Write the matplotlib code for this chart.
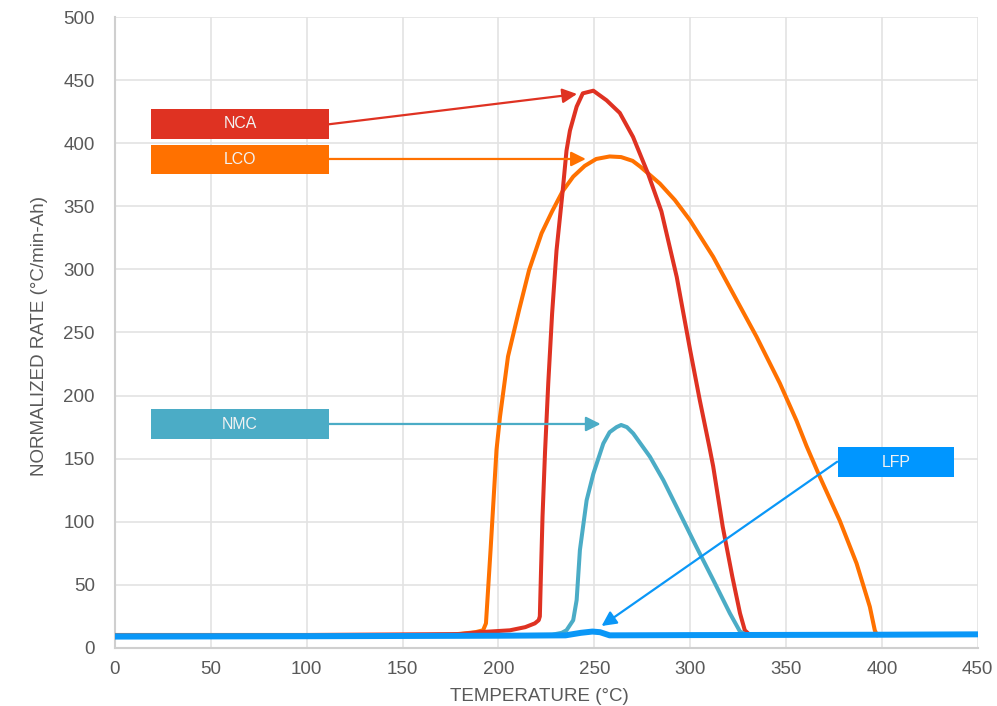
import matplotlib.pyplot as plt
from matplotlib.patches import Rectangle

plt.rcParams['font.family'] = ['Liberation Sans', 'DejaVu Sans']

# thermal runaway curves
nca_t = [0, 100, 180, 190, 206, 214, 219, 221, 221.6, 222.2, 223, 224.3, 226, 228, 230.3,
         233.5, 235.5, 237.3, 240.8, 244, 249.5, 256.4, 263.3, 270.2, 278, 285,
         293, 300, 305, 310, 312, 317, 322, 326, 328.5, 331]
nca_r = [10.3, 10.3, 11, 12.5, 14, 16.5, 19.5, 22, 25, 60, 104, 155, 210, 265, 315,
         362, 394, 410, 429, 439.5, 441.6, 434, 424, 405, 376, 346,
         294, 236, 196.5, 159.5, 144, 96, 56.5, 27.5, 14, 10.5]

lco_t = [0, 150, 175, 182, 188, 192, 193.5, 195.9, 199, 200.8, 205, 210.8, 216, 222.5,
         228, 233.5, 239, 245, 251, 258, 264, 270, 274, 284.2, 292, 299.9, 312,
         324.2, 334.6, 346.8, 355.5, 360.7, 367.6, 378, 386.8, 393.7, 396.3, 397.5]
lco_r = [10, 10, 10.5, 11.5, 12.5, 14, 19.5, 77.6, 157, 183, 231, 268, 299.5, 328.6,
         346, 362, 373.5, 382, 387.5, 389.5, 389, 386, 381.4, 368, 355, 339, 310,
         275.8, 246.7, 209.7, 180, 160, 135.7, 101, 67, 32.7, 14, 10]

nmc_t = [0, 200, 228, 233, 235.5, 239, 240.8, 242.5, 246, 249.5, 254.7, 258, 261.6, 264,
         267, 270.3, 279, 286, 294.6, 303.3, 312, 320.7, 326, 330]
nmc_r = [10, 10, 10.5, 12, 14, 22, 38, 77.6, 117, 138, 162, 171, 175, 176.7,
         175, 170, 151.6, 133, 106.7, 80, 54, 27.5, 13, 10]

lfp_t = [0, 100, 200, 235, 243, 249, 253, 258, 300, 400, 450]
lfp_r = [9, 9.3, 9.7, 10, 12, 13, 12.5, 10, 10.2, 10.5, 10.8]

x_ticks = list(range(0, 451, 50))
y_ticks = list(range(0, 501, 50))

c_nca = '#DF3222'
c_lco = '#FF7100'
c_nmc = '#4BACC6'
c_lfp = '#0A97F7'
grey = '#595959'

fig = plt.figure(figsize=(9.97, 7.06), dpi=100)
ax = fig.add_axes([0.1153, 0.0822, 0.8654, 0.8937])

line_kw = dict(solid_joinstyle='round', solid_capstyle='round')
ax.plot(lco_t, lco_r, color=c_lco, lw=2.9, zorder=3, **line_kw)
ax.plot(nca_t, nca_r, color=c_nca, lw=2.9, zorder=4, **line_kw)
ax.plot(nmc_t, nmc_r, color=c_nmc, lw=2.9, zorder=5, **line_kw)
ax.plot(lfp_t, lfp_r, color=c_lfp, lw=4.3, zorder=6, **line_kw)

ax.set_xlim(0, 450)
ax.set_ylim(0, 500)
ax.set_xticks(x_ticks)
ax.set_yticks(y_ticks)
ax.grid(True, color='#e3e3e3', lw=1.2, zorder=0)
ax.set_axisbelow(True)
for s in ['top', 'right']:
    ax.spines[s].set_visible(False)
for s in ['left', 'bottom']:
    ax.spines[s].set_color('#cfcfcf')
    ax.spines[s].set_linewidth(1.5)
ax.tick_params(axis='both', length=0, labelsize=13.5, labelcolor=grey)
ax.tick_params(axis='y', pad=14.4)
ax.tick_params(axis='x', pad=9.6)

ax.set_xlabel('TEMPERATURE (°C)', fontsize=13.5, color=grey)
ax.xaxis.set_label_coords(0.4915, -0.063)
ax.set_ylabel('NORMALIZED RATE (°C/min-Ah)', fontsize=13.5, color=grey)
ax.yaxis.set_label_coords(-0.0777, 0.495)

# label boxes: (name, x0, x1, y0, y1, colour)
boxes = [
    ('NCA', 18.8, 111.6, 403.5, 427, c_nca),
    ('LCO', 18.8, 111.6, 375.6, 398.6, c_lco),
    ('NMC', 18.8, 111.6, 165.8, 189.1, c_nmc),
    ('LFP', 377, 437.5, 135.7, 159, '#0096FF'),
]
for name, x0, x1, y0, y1, col in boxes:
    ax.add_patch(Rectangle((x0, y0), x1 - x0, y1 - y0, facecolor=col,
                           edgecolor='none', zorder=7, clip_on=False))
    ax.text((x0 + x1) / 2, (y0 + y1) / 2, name, color='#f2f2f2', fontsize=11.4,
            ha='center', va='center', zorder=8)

arrows = [
    ((111.6, 415), (241, 439), c_nca),
    ((111.6, 387.5), (245.6, 387.5), c_lco),
    ((111.6, 177.5), (253.3, 177.5), c_nmc),
    ((376.7, 147.6), (253.8, 17.4), c_lfp),
]
for start, tip, col in arrows:
    ax.annotate('', xy=tip, xytext=start, zorder=7,
                arrowprops=dict(arrowstyle='-|>', color=col, lw=1.6,
                                mutation_scale=22, shrinkA=0, shrinkB=0))

fig.savefig('out.png', dpi=100)
